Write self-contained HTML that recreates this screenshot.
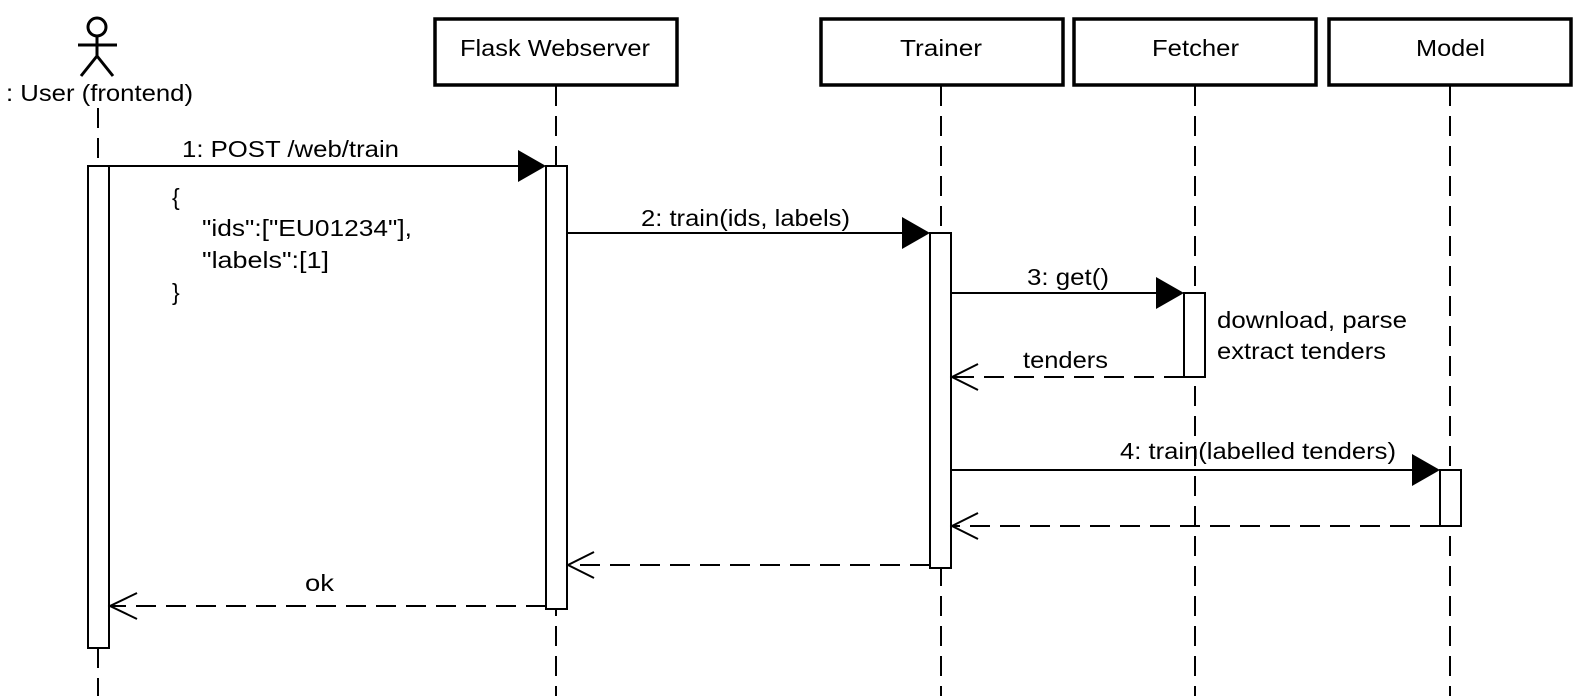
<!DOCTYPE html>
<html><head><meta charset="utf-8"><style>
html,body{margin:0;padding:0;background:#fff;}
svg{display:block;}
text{font-family:"Liberation Sans",Arial,sans-serif;font-size:23px;fill:#000;}
</style></head><body>
<svg width="1584" height="696" viewBox="0 0 1584 696" xmlns="http://www.w3.org/2000/svg">
<g fill="none" stroke="#000">
<circle cx="97" cy="27" r="9" stroke-width="3"/>
<line x1="97" y1="36" x2="97" y2="56" stroke-width="3"/>
<line x1="78" y1="45" x2="117" y2="45" stroke-width="3"/>
<line x1="97" y1="56" x2="81" y2="76" stroke-width="3"/>
<line x1="97" y1="56" x2="113" y2="76" stroke-width="3"/>
<rect x="435" y="19" width="242" height="66" stroke-width="3.5"/>
<rect x="821" y="19" width="242" height="66" stroke-width="3.5"/>
<rect x="1074" y="19" width="242" height="66" stroke-width="3.5"/>
<rect x="1329" y="19" width="242" height="66" stroke-width="3.5"/>
<g stroke-width="2" stroke-dasharray="20,10">
<line x1="98" y1="108" x2="98" y2="166"/>
<line x1="98" y1="648" x2="98" y2="696"/>
<line x1="556" y1="86" x2="556" y2="696"/>
<line x1="941" y1="86" x2="941" y2="696"/>
<line x1="1195" y1="86" x2="1195" y2="696"/>
<line x1="1450" y1="86" x2="1450" y2="696"/>
</g>
</g>
<g fill="#fff" stroke="#000" stroke-width="2">
<rect x="88" y="166" width="21" height="482"/>
<rect x="546" y="166" width="21" height="443"/>
<rect x="930" y="233" width="21" height="335"/>
<rect x="1184" y="293" width="21" height="84"/>
<rect x="1440" y="470" width="21" height="56"/>
</g>
<g stroke="#000" stroke-width="2">
<line x1="109" y1="166" x2="520" y2="166"/>
<line x1="567" y1="233" x2="905" y2="233"/>
<line x1="951" y1="293" x2="1160" y2="293"/>
<line x1="951" y1="470" x2="1415" y2="470"/>
</g>
<g fill="#000">
<polygon points="518,150 546,166 518,182"/>
<polygon points="902,217 930,233 902,249"/>
<polygon points="1156,277 1184,293 1156,309"/>
<polygon points="1412,454 1440,470 1412,486"/>
</g>
<g fill="none" stroke="#000" stroke-width="2">
<g stroke-dasharray="20,10">
<line x1="1184" y1="377" x2="953" y2="377"/>
<line x1="1440" y1="526" x2="953" y2="526"/>
<line x1="930" y1="565" x2="569" y2="565"/>
<line x1="546" y1="606" x2="111" y2="606"/>
</g>
<polyline points="978,364 952,377 978,390"/>
<polyline points="978,513 952,526 978,539"/>
<polyline points="594,552 568,565 594,578"/>
<polyline points="137,593 110,606 137,619"/>
</g>
<g lengthAdjust="spacingAndGlyphs">
<text x="6" y="101" textLength="187" lengthAdjust="spacingAndGlyphs">: User (frontend)</text>
<text x="460" y="56" textLength="190" lengthAdjust="spacingAndGlyphs">Flask Webserver</text>
<text x="900" y="56" textLength="82" lengthAdjust="spacingAndGlyphs">Trainer</text>
<text x="1152" y="56" textLength="87" lengthAdjust="spacingAndGlyphs">Fetcher</text>
<text x="1416" y="56" textLength="69" lengthAdjust="spacingAndGlyphs">Model</text>
<text x="182" y="157" textLength="217" lengthAdjust="spacingAndGlyphs">1: POST /web/train</text>
<text x="172" y="205">{</text>
<text x="202" y="236" textLength="210" lengthAdjust="spacingAndGlyphs">"ids":["EU01234"],</text>
<text x="202" y="268" textLength="127" lengthAdjust="spacingAndGlyphs">"labels":[1]</text>
<text x="172" y="300">}</text>
<text x="641" y="226" textLength="209" lengthAdjust="spacingAndGlyphs">2: train(ids, labels)</text>
<text x="1027" y="285" textLength="82" lengthAdjust="spacingAndGlyphs">3: get()</text>
<text x="1217" y="328" textLength="190" lengthAdjust="spacingAndGlyphs">download, parse</text>
<text x="1217" y="359" textLength="169" lengthAdjust="spacingAndGlyphs">extract tenders</text>
<text x="1023" y="368" textLength="85" lengthAdjust="spacingAndGlyphs">tenders</text>
<text x="1120" y="459" textLength="276" lengthAdjust="spacingAndGlyphs">4: train(labelled tenders)</text>
<text x="305" y="591" textLength="29" lengthAdjust="spacingAndGlyphs">ok</text>
</g>
</svg>
</body></html>
